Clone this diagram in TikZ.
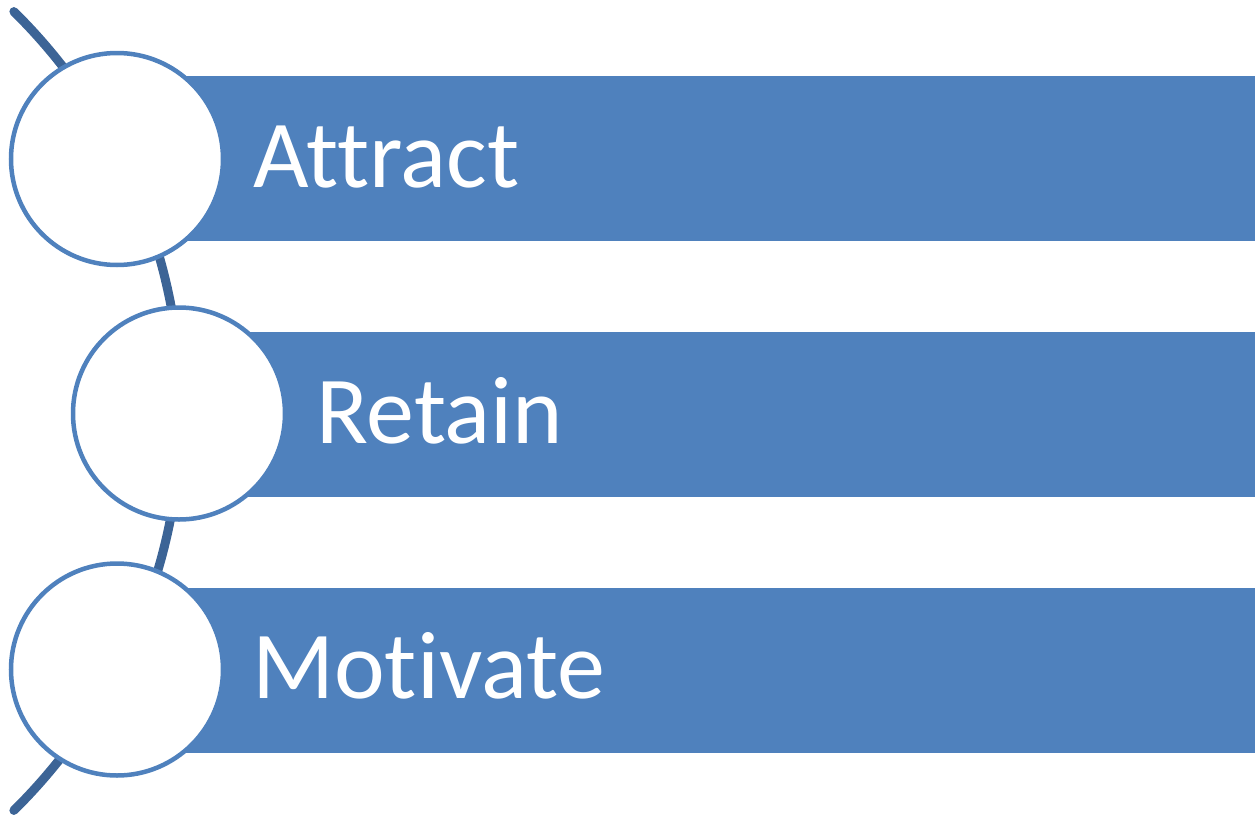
\documentclass[tikz,border=0pt]{standalone}
\usepackage{fontspec}
\usetikzlibrary{calc}
\setmainfont{Carlito}[Ligatures=NoCommon]
\definecolor{barblue}{RGB}{79,129,189}
\definecolor{arcblue}{RGB}{60,100,150}
\begin{document}
\begin{tikzpicture}[x=1pt,y=-1pt,
  bar/.style={fill=barblue,draw=none},
  disc/.style={circle,draw=barblue,fill=white,line width=4.5pt,minimum size=212pt,inner sep=0pt},
  label/.style={anchor=base west,text=white,inner sep=0pt,font=\fontsize{96}{110}\selectfont}]
\useasboundingbox (0,0) rectangle (1255,822);
% backbone arc behind the circles
\coordinate (arcc) at (-380,411);
\draw[arcblue,line width=9pt,line cap=round] ($(arcc)+(-45.4:561)$) arc[start angle=-45.4,end angle=45.4,radius=561];
% bands
\fill[bar] (117,76) rectangle (1255,241);
\fill[bar] (179,332) rectangle (1255,497);
\fill[bar] (117,588) rectangle (1255,753);
% circles
\node[disc] (c1) at (117,159) {};
\node[disc] (c2) at (179,413.5) {};
\node[disc] (c3) at (117,669.5) {};
% texts
\node[label] (t1) at (253,187) {Attract};
\node[label] (t2) at (316,443) {Retain};
\node[label] (t3) at (252,698) {Motivate};
\end{tikzpicture}
\end{document}
